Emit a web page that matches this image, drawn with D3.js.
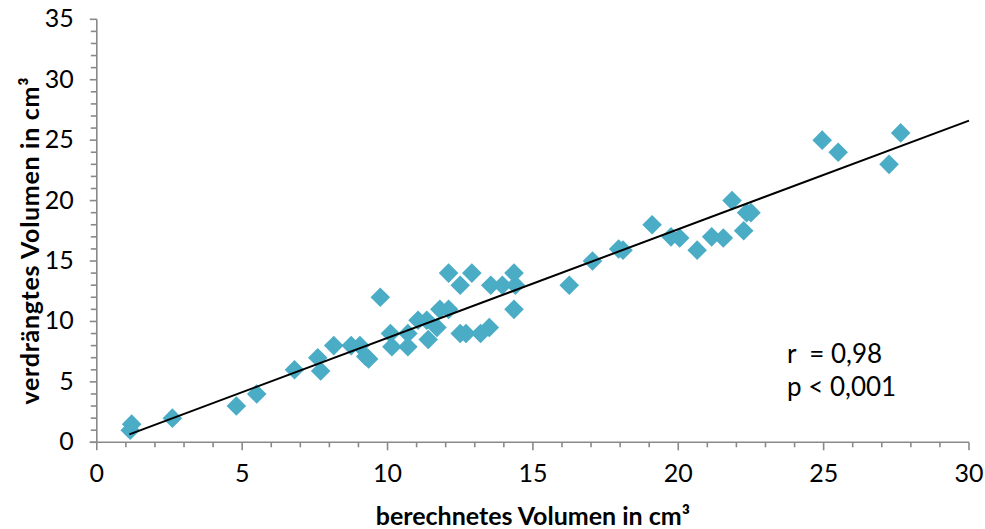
<!DOCTYPE html>
<html>
<head>
<meta charset="utf-8">
<script src="https://cdn.jsdelivr.net/npm/d3@7"></script>
<style>
  html, body { margin: 0; padding: 0; background: #fff; }
  svg text { font-family: Lato, "Open Sans", sans-serif; fill: #000; }
</style>
</head>
<body>
<div id="chart"></div>
<script>
// berechnetes Volumen (x) / verdrängtes Volumen (y), in cm³
const calcVol = [1.15, 1.2, 2.6, 4.8, 5.5, 6.8, 7.6, 7.7, 8.15, 8.75, 9.05, 9.25, 9.35, 9.75,
  10.1, 10.15, 10.7, 10.7, 11.05, 11.35, 11.4, 11.7, 11.8, 12.1, 12.1, 12.5, 12.5, 12.7, 12.9,
  13.2, 13.5, 13.55, 13.95, 14.35, 14.35, 14.4, 16.25, 17.05, 17.95, 18.1, 19.1, 19.75, 20.05,
  20.65, 21.15, 21.55, 21.85, 22.25, 22.35, 22.5, 24.95, 25.5, 27.25, 27.65];
const dispVol = [1.0, 1.5, 2.0, 3.0, 4.0, 6.0, 7.0, 5.9, 8.0, 8.0, 8.0, 7.1, 6.9, 12.0,
  9.0, 7.9, 9.0, 7.9, 10.1, 10.1, 8.5, 9.5, 11.0, 14.0, 11.0, 13.0, 9.0, 9.0, 14.0,
  9.0, 9.5, 13.0, 13.0, 14.0, 11.0, 13.0, 13.0, 15.0, 16.0, 15.9, 18.0, 17.0, 16.9,
  15.9, 17.0, 16.9, 20.0, 17.5, 19.0, 19.0, 25.0, 24.0, 23.0, 25.6];

// linear trend line
const trendX = [1.12, 30];
const trendSlope = 0.899, trendIntercept = -0.35;

const xTicks = [0, 5, 10, 15, 20, 25, 30];
const yTicks = [0, 5, 10, 15, 20, 25, 30, 35];
const statLines = ['r  = 0,98', 'p < 0,001'];

const width = 985, height = 529;
const svg = d3.select('#chart').append('svg')
  .attr('width', width).attr('height', height);

const x = d3.scaleLinear().domain([0, 30]).range([96.8, 969]);
const y = d3.scaleLinear().domain([0, 35]).range([442.3, 19.3]);

const axisColor = '#898989';

// y axis: ticks every 1 unit, labels every 5
const yAx = svg.append('g').attr('transform', `translate(${x(0)},0)`);
yAx.append('line').attr('y1', y(35)).attr('y2', y(0)).attr('stroke', axisColor).attr('stroke-width', 1.6);
yAx.selectAll('line.tk').data(d3.range(0, 36)).join('line').attr('class', 'tk')
  .attr('x1', d => d % 5 === 0 ? -7 : -6).attr('x2', 0)
  .attr('y1', d => y(d)).attr('y2', d => y(d))
  .attr('stroke', axisColor).attr('stroke-width', 1.6);
yAx.selectAll('text').data(yTicks).join('text')
  .attr('x', -23).attr('y', d => y(d) + 8)
  .attr('text-anchor', 'end').style('font-size', '25px').text(d => d);

// x axis
const xAx = svg.append('g').attr('transform', `translate(0,${y(0)})`);
xAx.append('line').attr('x1', x(0) - 7).attr('x2', x(30)).attr('stroke', axisColor).attr('stroke-width', 1.6);
xAx.selectAll('line.tk').data(d3.range(0, 31)).join('line').attr('class', 'tk')
  .attr('x1', d => x(d)).attr('x2', d => x(d))
  .attr('y1', 0).attr('y2', d => d % 5 === 0 ? 8 : 5)
  .attr('stroke', axisColor).attr('stroke-width', 1.6);
xAx.selectAll('text').data(xTicks).join('text')
  .attr('x', d => x(d)).attr('y', 40)
  .attr('text-anchor', 'middle').style('font-size', '25px').text(d => d);

// axis titles
svg.append('text')
  .attr('x', (x(0) + x(30)) / 2).attr('y', 525)
  .attr('text-anchor', 'middle').style('font-size', '25px').style('font-weight', 'bold')
  .text('berechnetes Volumen in cm³');
svg.append('text')
  .attr('transform', 'translate(39,241) rotate(-90)')
  .attr('text-anchor', 'middle').style('font-size', '25px').style('font-weight', 'bold')
  .attr('textLength', 327).attr('lengthAdjust', 'spacing')
  .text('verdrängtes Volumen in cm³');

// data points (diamonds)
const data = calcVol.map((v, i) => ({ x: v, y: dispVol[i] }));
const r = 9.8;
svg.append('g').selectAll('path').data(data).join('path')
  .attr('d', d => `M${x(d.x)},${y(d.y) - r}L${x(d.x) + r},${y(d.y)}L${x(d.x)},${y(d.y) + r}L${x(d.x) - r},${y(d.y)}Z`)
  .attr('fill', '#4bacc6');

// trend line
svg.append('line')
  .attr('x1', x(trendX[0])).attr('y1', y(trendSlope * trendX[0] + trendIntercept))
  .attr('x2', x(trendX[1])).attr('y2', y(trendSlope * trendX[1] + trendIntercept))
  .attr('stroke', '#000').attr('stroke-width', 2);

// statistics text
svg.append('g').selectAll('text').data(statLines).join('text')
  .attr('x', 787).attr('y', (d, i) => 363 + i * 33)
  .style('font-size', '26px').style('white-space', 'pre')
  .text(d => d);
</script>
</body>
</html>
